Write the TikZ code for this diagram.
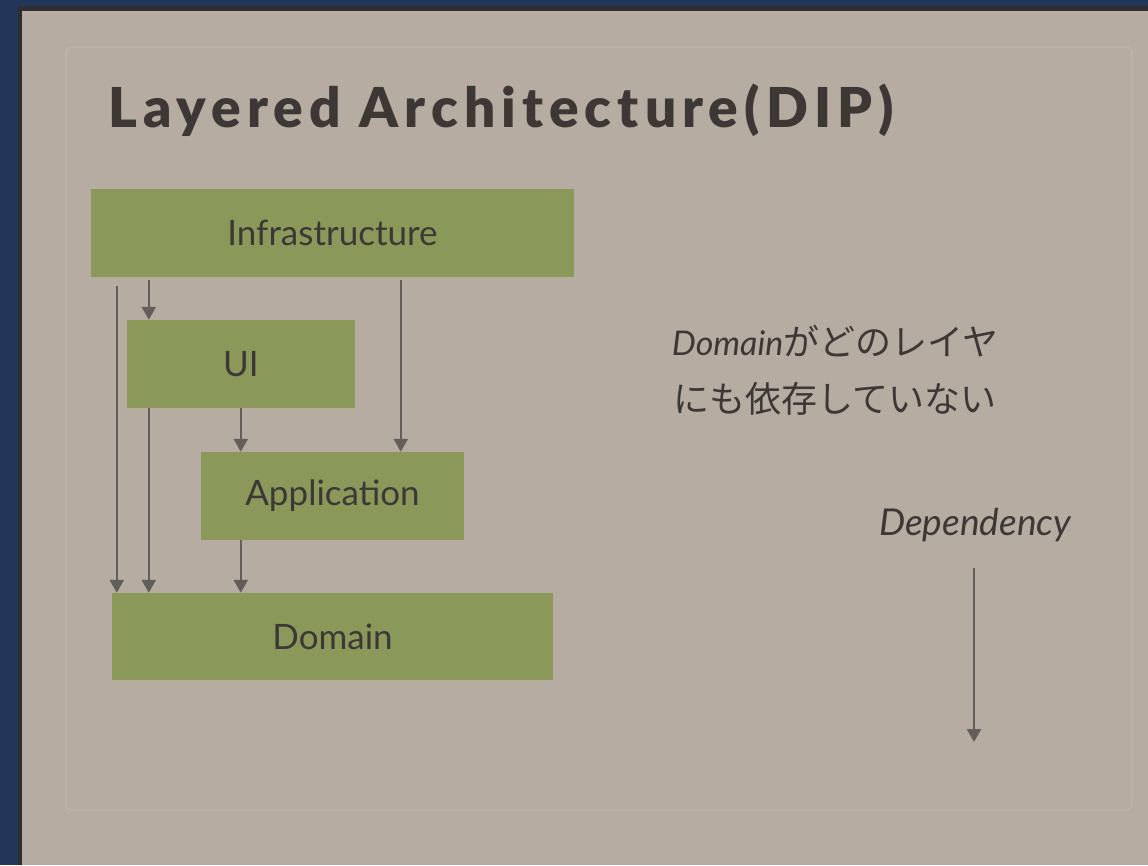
\documentclass[tikz,border=0pt]{standalone}
\usepackage{fontspec}
\setmainfont{Lato}
\newfontfamily\jpfont{Noto Sans CJK JP}
\newfontfamily\titlefont[LetterSpace=11]{Lato Black}
\usetikzlibrary{arrows.meta}
\definecolor{navy}{HTML}{22365A}
\definecolor{edge}{HTML}{2E2E30}
\definecolor{paper}{HTML}{B6ACA1}
\definecolor{frameline}{HTML}{C2B9AE}
\definecolor{layer}{HTML}{8A985A}
\definecolor{ink}{HTML}{3D3836}
\definecolor{wire}{HTML}{625E5C}
\tikzset{
  layerbox/.style={fill=layer, draw=none, inner sep=0pt, text=ink,
    font=\fontsize{35}{40}\selectfont},
  dep/.style={draw=wire, line width=2.6pt,
    -{Triangle[width=14pt,length=13pt]}},
  note/.style={text=ink, align=center, inner sep=0pt}
}
\begin{document}
\begin{tikzpicture}[x=1pt,y=-1pt]
  % slide background and window edge
  \fill[navy] (0,0) rectangle (1148,865);
  \fill[edge] (18,6) rectangle (1148,865);
  \fill[paper] (22,11) rectangle (1148,865);
  \useasboundingbox (0,0) rectangle (1148,865);
  % inner panel
  \draw[frameline, line width=1pt, rounded corners=6pt] (66,47) rectangle (1132,810);

  % title
  \node[anchor=base west, inner sep=0pt, text=ink] (title) at (108,127)
    {\titlefont\fontsize{55}{62}\selectfont Layered Architecture(DIP)};

  % layers
  \node[layerbox, minimum width=483pt, minimum height=88pt] (infra) at (332.5,233) {Infrastructure};
  \node[layerbox, minimum width=228pt, minimum height=88pt] (ui) at (241,364) {UI};
  \node[layerbox, minimum width=263pt, minimum height=88pt] (app) at (332.5,496) {Application};
  \node[layerbox, minimum width=441pt, minimum height=87pt] (domain) at (332.5,636.5) {Domain};

  % dependencies between layers
  \draw[dep] ([xshift=26pt,yshift=-9pt]infra.south west) -- ([xshift=5pt]domain.north west);
  \draw[dep] ([xshift=58pt,yshift=-3pt]infra.south west) -- ([xshift=22pt]ui.north west);
  \draw[dep] ([xshift=22pt]ui.south west) -- ([xshift=37pt]domain.north west);
  \draw[dep] ([xshift=114pt]ui.south west) -- ([xshift=40pt]app.north west);
  \draw[dep] ([xshift=310pt,yshift=-3pt]infra.south west) -- ([xshift=200pt]app.north west);
  \draw[dep] ([xshift=40pt]app.south west) -- ([xshift=129pt]domain.north west);

  % remark
  \node[note] (remark) at (835,370)
    {{\fontsize{34}{36}\selectfont\itshape Domain}{\jpfont\fontsize{36}{38}\selectfont がどのレイヤ}\\[24pt]
     {\jpfont\fontsize{36}{38}\selectfont にも依存していない}};

  % legend
  \node[note, font=\fontsize{37}{40}\selectfont\itshape] (legend) at (975,525) {Dependency};
  \coordinate (legendstart) at (974,568);
  \coordinate (legendend) at (974,742);
  \draw[dep] (legendstart) -- (legendend);
\end{tikzpicture}
\end{document}
